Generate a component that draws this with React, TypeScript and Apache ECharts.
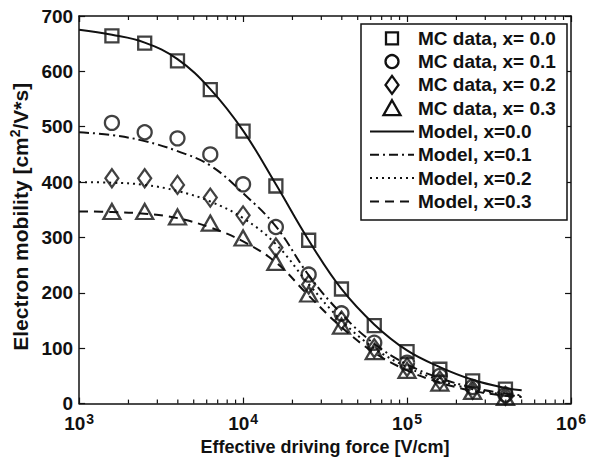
import React, { useEffect, useRef } from "react";
import * as echarts from "echarts";

// Effective driving force [V/cm] at which MC data were sampled
const fieldX = [1585, 2512, 3981, 6310, 10000, 15849, 25119, 39811, 63096, 100000, 158489, 251189, 398107];
// Monte Carlo mobility data [cm2/V*s]
const mc00 = [664, 651, 619, 567, 492, 393, 295, 207, 141, 94, 62, 41, 26];
const mc01 = [507, 490, 479, 450, 396, 319, 233, 163, 110, 74, 50, 30, 16];
const mc02 = [407, 407, 395, 372, 340, 282, 215, 150, 100, 66, 42, 25, 14];
const mc03 = [347, 347, 337, 326, 299, 255, 198, 140, 94, 60, 37, 22, 11];

// Model curves
const modelX = [1000, 1585, 2512, 3981, 6310, 10000, 15849, 25119, 39811, 63096, 100000, 158489, 251189, 398107, 500000];
const model00 = [675, 666, 652, 622, 568, 493, 396, 295, 207, 143, 96, 66, 43, 28, 24];
const model01 = [490, 485, 474, 456, 430, 380, 320, 232, 162, 108, 71, 46, 29, 18, 15];
const model02 = [400, 399, 395, 384, 365, 335, 288, 216, 150, 100, 66, 42, 26, 16, 13];
const model03 = [347, 346, 343, 335, 318, 293, 255, 195, 138, 92, 60, 38, 23, 14, 12];

const mcNames = ["MC data, x= 0.0", "MC data, x= 0.1", "MC data, x= 0.2", "MC data, x= 0.3"];
const modelNames = ["Model, x=0.0", "Model, x=0.1", "Model, x=0.2", "Model, x=0.3"];

const minorTickValues = [
  2000, 3000, 4000, 5000, 6000, 7000, 8000, 9000,
  20000, 30000, 40000, 50000, 60000, 70000, 80000, 90000,
  200000, 300000, 400000, 500000, 600000, 700000, 800000, 900000,
];

const FONT = "'Liberation Sans', Arial, Helvetica, sans-serif";
const INK = "#111111";

const zip = (xs: number[], ys: number[]) => xs.map((x, i) => [x, ys[i]]);

export default function App() {
  const ref = useRef<HTMLDivElement>(null);
  useEffect(() => {
    if (!ref.current) return;
    const chart = echarts.init(ref.current, undefined, { renderer: "svg" });

    const markerStyle = { color: "rgba(0,0,0,0)", borderColor: INK, borderWidth: 2.3 };
    const mcSeries = [
      { name: mcNames[0], data: zip(fieldX, mc00), symbol: "rect", symbolSize: 13 },
      { name: mcNames[1], data: zip(fieldX, mc01), symbol: "circle", symbolSize: 14 },
      { name: mcNames[2], data: zip(fieldX, mc02), symbol: "diamond", symbolSize: [13, 18] },
      { name: mcNames[3], data: zip(fieldX, mc03), symbol: "triangle", symbolSize: [17, 15] },
    ].map((s) => ({ ...s, type: "scatter", itemStyle: markerStyle, z: 3 }));

    const dashTypes: any[] = ["solid", [10, 4, 2, 4], [2, 4], [9, 6]];
    const dashArrays: any[] = [null, [9, 4, 2, 4], [2, 4], [9, 6]];
    const modelData = [model00, model01, model02, model03];
    const modelSeries = modelNames.map((n, i) => ({
      name: n,
      type: "line",
      data: zip(modelX, modelData[i]),
      smooth: 0.4,
      symbol: "none",
      lineStyle: { color: INK, width: 2, type: dashTypes[i] },
      itemStyle: { color: INK },
      z: 2,
    }));

    const axisLine = { show: true, onZero: false, lineStyle: { color: INK, width: 1.5 } };
    const labelStyle = { fontFamily: FONT, fontWeight: "bold", fontSize: 19, color: INK };
    const xLabelFmt = (v: number) => `{b|10}{s|${Math.round(Math.log10(v))}}`;

    // legend drawn as graphic elements
    const LX = 361, LY = 24, LW = 206, LH = 196;
    const rowY = (i: number) => 38.3 + 23.3 * i;
    const mx = 392;
    const mStyle = { fill: "none", stroke: INK, lineWidth: 2.3 };
    const legendChildren: any[] = [
      { type: "rect", shape: { x: LX, y: LY, width: LW, height: LH }, style: { fill: "#fff", stroke: INK, lineWidth: 1.5 }, z: 100 },
    ];
    const allNames = [...mcNames, ...modelNames];
    allNames.forEach((n, i) => {
      legendChildren.push({
        type: "text",
        x: 418,
        y: rowY(i),
        style: { text: n, font: `bold 19px ${FONT}`, fill: INK, textVerticalAlign: "middle", textAlign: "left" },
        z: 101,
      });
    });
    const c0 = rowY(0), c1 = rowY(1), c2 = rowY(2), c3 = rowY(3);
    legendChildren.push(
      { type: "rect", shape: { x: mx - 6, y: c0 - 6, width: 12, height: 12 }, style: mStyle, z: 101 },
      { type: "circle", shape: { cx: mx, cy: c1, r: 6.5 }, style: mStyle, z: 101 },
      { type: "polygon", shape: { points: [[mx, c2 - 9], [mx + 6.5, c2], [mx, c2 + 9], [mx - 6.5, c2]] }, style: mStyle, z: 101 },
      { type: "polygon", shape: { points: [[mx, c3 - 8], [mx + 8.5, c3 + 7], [mx - 8.5, c3 + 7]] }, style: mStyle, z: 101 },
    );
    for (let i = 0; i < 4; i++) {
      const y = rowY(4 + i);
      legendChildren.push({
        type: "line",
        shape: { x1: 370, y1: y, x2: 414, y2: y },
        style: { stroke: INK, lineWidth: 2, lineDash: dashArrays[i] },
        z: 101,
      });
    }

    chart.setOption({
      animation: false,
      backgroundColor: "#ffffff",
      grid: { left: 77, right: 15, top: 16, bottom: 55 },
      xAxis: [
        {
          type: "log",
          logBase: 10,
          min: 1000,
          max: 1000000,
          position: "bottom",
          axisLine,
          axisTick: { show: true, inside: true, length: 6, lineStyle: { color: INK, width: 1.2 } },
          splitLine: { show: false },
          axisLabel: {
            formatter: xLabelFmt,
            margin: 8,
            showMaxLabel: true,
            hideOverlap: false,
            rich: {
              b: { fontFamily: FONT, fontWeight: "bold", fontSize: 19, color: INK },
              s: { fontFamily: FONT, fontWeight: "bold", fontSize: 14, color: INK, verticalAlign: "top", padding: [0, 0, 10, 1] },
            },
          },
          name: "Effective driving force [V/cm]",
          nameLocation: "middle",
          nameGap: 14,
          nameTextStyle: { ...labelStyle, fontSize: 18 },
        },
        {
          type: "log",
          logBase: 10,
          min: 1000,
          max: 1000000,
          position: "top",
          axisLine,
          axisTick: { show: true, inside: true, length: 6, lineStyle: { color: INK, width: 1.2 } },
          splitLine: { show: false },
          axisLabel: { show: false },
        },
      ],
      yAxis: [
        {
          type: "value",
          min: 0,
          max: 700,
          interval: 100,
          position: "left",
          axisLine,
          axisTick: { show: true, inside: true, length: 6, lineStyle: { color: INK, width: 1.2 } },
          splitLine: { show: false },
          axisLabel: { ...labelStyle, margin: 6 },
          name: "{a|Electron mobility [cm}{s|2}{a|/V*s]}",
          nameLocation: "middle",
          nameGap: 45,
          nameRotate: 90,
          nameTextStyle: {
            padding: [0, 14, 0, 0],
            rich: {
              a: { fontFamily: FONT, fontWeight: "bold", fontSize: 21, color: INK },
              s: { fontFamily: FONT, fontWeight: "bold", fontSize: 14, color: INK, verticalAlign: "top", padding: [0, 0, 10, 0] },
            },
          },
        },
        {
          type: "value",
          min: 0,
          max: 700,
          interval: 100,
          position: "right",
          axisLine,
          axisTick: { show: true, inside: true, length: 6, lineStyle: { color: INK, width: 1.2 } },
          splitLine: { show: false },
          axisLabel: { show: false },
        },
      ],
      graphic: [{ type: "group", children: legendChildren }],
      series: [
        ...mcSeries,
        ...modelSeries,
        {
          type: "custom",
          name: "minorTicks",
          xAxisIndex: 0,
          yAxisIndex: 0,
          silent: true,
          data: minorTickValues.map((v) => [v, 0]),
          renderItem: (params: any, api: any) => {
            const bottom = api.coord([api.value(0), 0]);
            const top = api.coord([api.value(0), 700]);
            const st = { stroke: INK, lineWidth: 1.2 };
            return {
              type: "group",
              children: [
                { type: "line", shape: { x1: bottom[0], y1: bottom[1], x2: bottom[0], y2: bottom[1] - 4 }, style: st },
                { type: "line", shape: { x1: top[0], y1: top[1], x2: top[0], y2: top[1] + 4 }, style: st },
              ],
            };
          },
        },
      ],
    });
    return () => chart.dispose();
  }, []);
  return <div ref={ref} style={{ position: "absolute", left: 0, top: 0, width: 589, height: 461 }} />;
}
